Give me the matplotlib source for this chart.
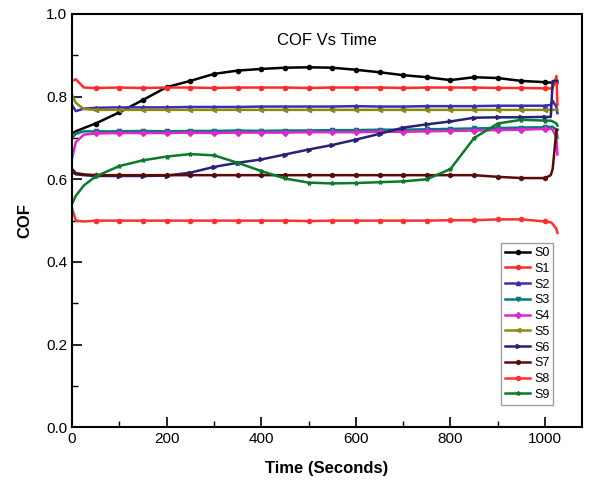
import numpy as np
import matplotlib
matplotlib.use('Agg')
import matplotlib.pyplot as plt
from matplotlib.ticker import MultipleLocator

plt.rcParams['font.family'] = ['Liberation Sans', 'DejaVu Sans']

# time grid (s): start detail, every 50 s, end detail
time_s = [0, 8, 25] + list(range(50, 1001, 50)) + [1012, 1016, 1024, 1026]

s0 = [0.711, 0.716, 0.724, 0.735, 0.762, 0.792, 0.823, 0.838, 0.855, 0.863, 0.867, 0.870,
      0.871, 0.870, 0.865, 0.859, 0.852, 0.847, 0.840, 0.847, 0.845, 0.838, 0.835,
      0.834, 0.834, 0.833, 0.833]
s1 = [0.838, 0.842, 0.822, 0.821, 0.822, 0.821, 0.822, 0.822, 0.821, 0.822, 0.822, 0.822,
      0.821, 0.822, 0.822, 0.822, 0.821, 0.822, 0.822, 0.822, 0.821, 0.821, 0.820,
      0.820, 0.820, 0.850, 0.780]
s2 = [0.780, 0.765, 0.771, 0.773, 0.774, 0.774, 0.774, 0.775, 0.775, 0.775, 0.776, 0.776,
      0.776, 0.776, 0.777, 0.776, 0.776, 0.777, 0.777, 0.777, 0.778, 0.778, 0.778,
      0.780, 0.790, 0.775, 0.760]
s3 = [0.700, 0.710, 0.716, 0.716, 0.716, 0.717, 0.716, 0.717, 0.717, 0.718, 0.717, 0.718,
      0.718, 0.719, 0.719, 0.720, 0.720, 0.721, 0.722, 0.723, 0.724, 0.725, 0.726,
      0.727, 0.727, 0.720, 0.700]
s4 = [0.650, 0.690, 0.708, 0.711, 0.712, 0.712, 0.712, 0.713, 0.712, 0.713, 0.713, 0.713,
      0.714, 0.714, 0.714, 0.715, 0.715, 0.716, 0.717, 0.718, 0.719, 0.720, 0.722,
      0.722, 0.720, 0.700, 0.660]
s5 = [0.805, 0.785, 0.770, 0.768, 0.768, 0.768, 0.768, 0.768, 0.768, 0.768, 0.768, 0.768,
      0.768, 0.768, 0.768, 0.768, 0.768, 0.768, 0.768, 0.768, 0.768, 0.768, 0.768,
      0.768, 0.768, 0.768, 0.768]
s6 = [0.618, 0.612, 0.610, 0.608, 0.608, 0.608, 0.609, 0.616, 0.630, 0.640, 0.648, 0.660,
      0.672, 0.683, 0.696, 0.710, 0.725, 0.733, 0.740, 0.749, 0.750, 0.750, 0.751,
      0.751, 0.838, 0.838, 0.838]
s7 = [0.625, 0.615, 0.612, 0.610, 0.610, 0.610, 0.610, 0.610, 0.610, 0.610, 0.610, 0.610,
      0.610, 0.610, 0.610, 0.610, 0.610, 0.610, 0.610, 0.610, 0.606, 0.603, 0.603,
      0.610, 0.625, 0.720, 0.720]
s8 = [0.530, 0.500, 0.498, 0.500, 0.500, 0.500, 0.500, 0.500, 0.500, 0.500, 0.500, 0.500,
      0.499, 0.500, 0.500, 0.500, 0.500, 0.500, 0.501, 0.501, 0.503, 0.503, 0.498,
      0.496, 0.492, 0.480, 0.470]
s9 = [0.540, 0.560, 0.585, 0.607, 0.632, 0.646, 0.655, 0.661, 0.658, 0.640, 0.620, 0.602,
      0.592, 0.590, 0.591, 0.593, 0.595, 0.600, 0.625, 0.700, 0.735, 0.744, 0.742,
      0.742, 0.740, 0.735, 0.730]

labels = ['S0', 'S1', 'S2', 'S3', 'S4', 'S5', 'S6', 'S7', 'S8', 'S9']
series = [s0, s1, s2, s3, s4, s5, s6, s7, s8, s9]
colors = ['#000000', '#ff2a2a', '#3a2fb0', '#007a7a', '#e026c8', '#8a8a10',
          '#26227a', '#5a0a0a', '#ff3030', '#0a7a2a']
markers = ['o', 'o', '^', 'v', 'D', '<', '>', 'h', 'o', '*']

fig = plt.figure(figsize=(5.94, 4.87), dpi=100)
ax = fig.add_axes([0.1212, 0.1226, 0.8586, 0.8487])

for y, lab, c, m in zip(series, labels, colors, markers):
    ax.plot(time_s, y, color=c, lw=1.8, marker=m, ms=3, markevery=slice(3, 23),
            label=lab)

ax.set_xlim(0, 1078)
ax.set_ylim(0, 1.0)
ax.xaxis.set_major_locator(MultipleLocator(200))
ax.xaxis.set_minor_locator(MultipleLocator(100))
ax.yaxis.set_major_locator(MultipleLocator(0.2))
ax.yaxis.set_minor_locator(MultipleLocator(0.1))
ax.yaxis.set_major_formatter(plt.FuncFormatter(lambda v, p: f'{v:.1f}'))
ax.tick_params(which='both', direction='in', top=False, right=False, labelsize=11)
ax.tick_params(which='major', length=7, width=1.2)
ax.tick_params(which='minor', length=4, width=1.0)
for sp in ax.spines.values():
    sp.set_linewidth(1.5)

ax.set_xlabel('Time (Seconds)', fontsize=12, fontweight='bold', labelpad=11)
ax.set_ylabel('COF', fontsize=12, fontweight='bold', labelpad=10)
ax.text(0.5, 0.955, 'COF Vs Time', transform=ax.transAxes, ha='center', va='top',
        fontsize=12)

ax.legend(loc='upper left', bbox_to_anchor=(0.842, 0.445), fontsize=9,
          handlelength=2.0, handletextpad=0.3, labelspacing=0.3, borderpad=0.3,
          frameon=True, fancybox=False, edgecolor='#888888', borderaxespad=0)

fig.savefig('out.png', dpi=100)
